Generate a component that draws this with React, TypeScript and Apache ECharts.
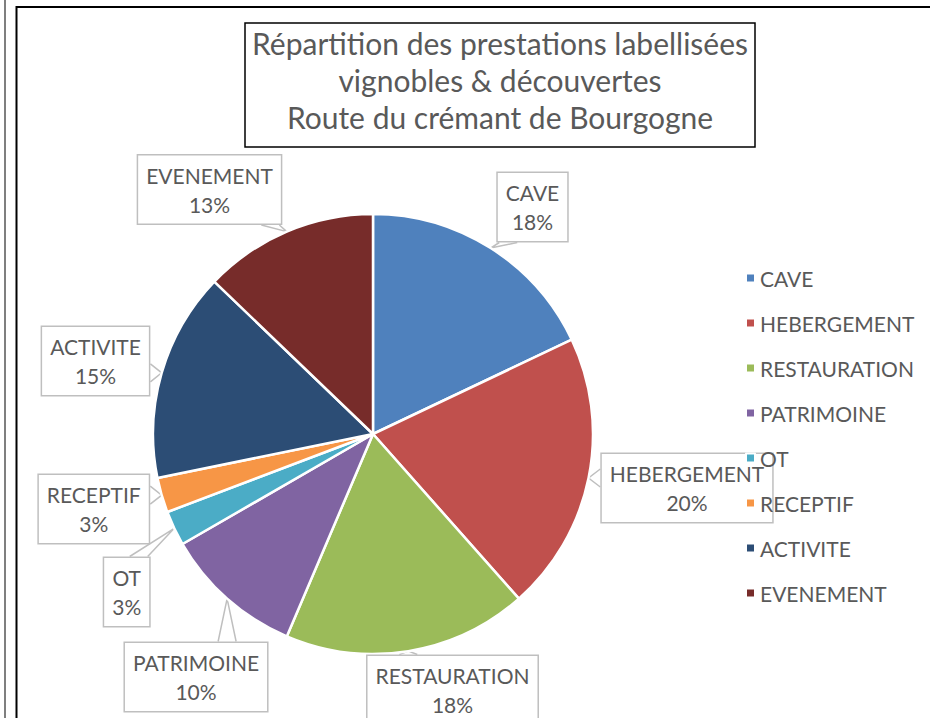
import React, { useEffect, useRef } from 'react';
import * as echarts from 'echarts';

const categories = ['CAVE', 'HEBERGEMENT', 'RESTAURATION', 'PATRIMOINE', 'OT', 'RECEPTIF', 'ACTIVITE', 'EVENEMENT'];
const counts = [7, 8, 7, 4, 1, 1, 6, 5];
const colors = ['#4F81BD', '#C0504D', '#9BBB59', '#8064A2', '#4BACC6', '#F79646', '#2C4D75', '#772C2A'];
const titleLines = ['Répartition des prestations labellisées', 'vignobles & découvertes', 'Route du crémant de Bourgogne'];

// layout only: centre of each callout box
const LABEL_CENTERS: Record<string, [number, number]> = {
  CAVE: [532.5, 207],
  HEBERGEMENT: [687, 488],
  RESTAURATION: [452.5, 690],
  PATRIMOINE: [196, 677],
  OT: [126.7, 592],
  RECEPTIF: [93.8, 509],
  ACTIVITE: [95.5, 361],
  EVENEMENT: [209.5, 189.5],
};

const FONT = 'Lato';
const TEXT = '#595959';

export default function App() {
  const ref = useRef<HTMLDivElement>(null);
  useEffect(() => {
    if (!ref.current) return;
    const chart = echarts.init(ref.current, undefined, { renderer: 'svg' });
    const option: any = {
      animation: false,
      textStyle: { fontFamily: FONT },
      title: {
        text: titleLines.join('\n'),
        left: 500,
        top: 25,
        textAlign: 'center',
        padding: 0,
        textStyle: { fontSize: 30, fontWeight: 'normal', color: TEXT, lineHeight: 36.7, fontFamily: FONT },
      },
      legend: {
        orient: 'vertical',
        left: 745,
        top: 266,
        padding: 0,
        itemWidth: 9,
        itemHeight: 9,
        itemGap: 21,
        icon: 'rect',
        data: categories,
        textStyle: { fontSize: 21, color: TEXT, lineHeight: 24, fontFamily: FONT },
      },
      graphic: [
        { type: 'line', shape: { x1: 5, y1: 0, x2: 5, y2: 718 }, style: { stroke: '#7f7f7f', lineWidth: 2 } },
        { type: 'rect', shape: { x: 16.5, y: 7, width: 1000, height: 800 }, style: { fill: 'none', stroke: '#000', lineWidth: 2 } },
        { type: 'rect', shape: { x: 245, y: 23, width: 510, height: 124 }, style: { fill: 'none', stroke: '#000', lineWidth: 1.5 } },
      ],
      series: [
        {
          type: 'pie',
          center: [373, 434],
          radius: 220,
          startAngle: 90,
          clockwise: true,
          percentPrecision: 0,
          avoidLabelOverlap: false,
          itemStyle: { borderColor: '#fff', borderWidth: 2.5 },
          label: {
            show: true,
            position: 'outside',
            formatter: '{b}\n{d}%',
            fontFamily: FONT,
            fontSize: 21,
            lineHeight: 29,
            color: TEXT,
            backgroundColor: '#fff',
            borderColor: '#BFBFBF',
            borderWidth: 1.5,
            padding: [5, 8],
            align: 'center',
          },
          labelLine: { show: true, smooth: false, lineStyle: { color: '#BFBFBF', width: 1.5 } },
          labelLayout: (p: any) => {
            const name = categories[p.dataIndex];
            const [cx, cy] = LABEL_CENTERS[name];
            const hw = p.labelRect.width / 2;
            const hh = p.labelRect.height / 2;
            const tip = p.labelLinePoints ? p.labelLinePoints[0] : [cx, cy];
            const nx = (tip[0] - cx) / hw;
            const ny = (tip[1] - cy) / hh;
            const half = 9;
            let a: number[];
            let b: number[];
            if (Math.abs(ny) >= Math.abs(nx) * 0.9) {
              const ey = cy + Math.sign(ny) * hh;
              const px = Math.max(cx - hw + half + 3, Math.min(cx + hw - half - 3, tip[0]));
              a = [px - half, ey];
              b = [px + half, ey];
            } else {
              const ex = cx + Math.sign(nx) * hw;
              const py = Math.max(cy - hh + half + 3, Math.min(cy + hh - half - 3, tip[1]));
              a = [ex, py - half];
              b = [ex, py + half];
            }
            return { x: cx, y: cy, align: 'center', verticalAlign: 'middle', labelLinePoints: [a, tip, b] };
          },
          data: categories.map((n, i) => ({ name: n, value: counts[i], itemStyle: { color: colors[i] } })),
        },
      ],
    };
    chart.setOption(option);
    return () => chart.dispose();
  }, []);
  return <div ref={ref} style={{ position: 'absolute', left: 0, top: 0, width: 930, height: 718 }} />;
}
